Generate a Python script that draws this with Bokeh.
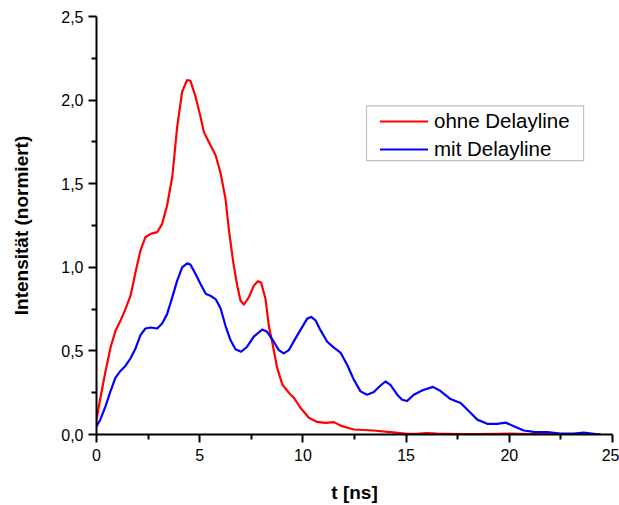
from bokeh.plotting import figure
from bokeh.models import (Range1d, FixedTicker, Legend, LegendItem, BoxAnnotation)
from bokeh.embed import file_html
from bokeh.resources import INLINE

# Intensity traces (normalised) versus time in ns
t_ohne = [0.0, 0.19, 0.44, 0.68, 0.92, 1.16, 1.40, 1.65, 1.89, 2.13, 2.37, 2.62, 2.94,
          3.18, 3.42, 3.67, 3.91, 4.15, 4.39, 4.55, 4.80, 5.04, 5.20, 5.44, 5.77, 6.01,
          6.25, 6.41, 6.57, 6.65, 6.82, 6.98, 7.14, 7.38, 7.62, 7.82, 7.98, 8.19, 8.35,
          8.51, 8.75, 9.00, 9.32, 9.56, 9.88, 10.29, 10.69, 11.10, 11.50, 11.90, 12.47,
          13.40, 14.24, 15.05, 15.50, 16.00, 16.50, 17.50, 18.50, 19.50, 20.00, 21.00,
          22.00, 23.00, 24.00, 24.40]
i_ohne = [0.09, 0.22, 0.38, 0.52, 0.62, 0.68, 0.75, 0.83, 0.97, 1.10, 1.18, 1.20, 1.21,
          1.26, 1.37, 1.54, 1.84, 2.05, 2.12, 2.115, 2.02, 1.90, 1.81, 1.75, 1.67, 1.565,
          1.41, 1.23, 1.08, 1.01, 0.89, 0.80, 0.777, 0.82, 0.89, 0.917, 0.907, 0.81, 0.65,
          0.555, 0.40, 0.30, 0.25, 0.22, 0.16, 0.10, 0.075, 0.07, 0.074, 0.05, 0.03,
          0.024, 0.014, 0.004, 0.004, 0.008, 0.005, 0.003, 0.002, 0.004, 0.005, 0.002,
          0.001, 0.002, 0.0, 0.0]

t_mit = [0.0, 0.19, 0.44, 0.68, 0.92, 1.16, 1.40, 1.65, 1.89, 2.13, 2.37, 2.62, 2.94,
         3.18, 3.42, 3.67, 3.91, 4.15, 4.39, 4.55, 4.80, 5.04, 5.30, 5.52, 5.77, 6.01,
         6.25, 6.49, 6.73, 7.01, 7.30, 7.62, 8.03, 8.27, 8.59, 8.83, 9.07, 9.32, 9.64,
         9.97, 10.21, 10.40, 10.61, 10.85, 11.18, 11.50, 11.82, 12.15, 12.47, 12.79,
         13.11, 13.44, 13.76, 14.00, 14.24, 14.57, 14.81, 15.05, 15.37, 15.80, 16.30,
         16.67, 17.15, 17.64, 17.96, 18.45, 18.93, 19.41, 19.82, 20.22, 20.70, 21.19,
         21.84, 22.48, 23.12, 23.60, 24.10, 24.40]
i_mit = [0.05, 0.09, 0.17, 0.26, 0.34, 0.38, 0.41, 0.456, 0.515, 0.594, 0.634, 0.64, 0.634,
         0.664, 0.72, 0.82, 0.92, 1.00, 1.024, 1.016, 0.96, 0.90, 0.84, 0.83, 0.81, 0.755,
         0.65, 0.565, 0.51, 0.495, 0.525, 0.585, 0.628, 0.614, 0.555, 0.505, 0.485, 0.505,
         0.575, 0.644, 0.693, 0.703, 0.683, 0.624, 0.555, 0.52, 0.49, 0.416, 0.327, 0.258,
         0.238, 0.254, 0.293, 0.317, 0.297, 0.238, 0.208, 0.20, 0.238, 0.265, 0.285,
         0.26, 0.212, 0.188, 0.149, 0.089, 0.064, 0.064, 0.071, 0.05, 0.024, 0.016,
         0.014, 0.006, 0.006, 0.012, 0.004, 0.0]

x_ticks = [0, 5, 10, 15, 20, 25]
x_minor = [2.5, 7.5, 12.5, 17.5, 22.5]
y_ticks = [0.0, 0.5, 1.0, 1.5, 2.0, 2.5]
y_minor = [0.25, 0.75, 1.25, 1.75, 2.25]
y_tick_labels = ["0,0", "0,5", "1,0", "1,5", "2,0", "2,5"]

series_names = ["ohne Delayline", "mit Delayline"]
series_colors = ["#ff0000", "#0000ff"]

FONT = "Liberation Sans"

p = figure(width=619, height=505, output_backend="svg", toolbar_location=None,
           x_range=Range1d(0, 25), y_range=Range1d(0, 2.5),
           min_border_left=96, min_border_right=7, min_border_top=16,
           min_border_bottom=68)
p.outline_line_color = None
p.xgrid.visible = False
p.ygrid.visible = False
p.background_fill_color = "white"
p.border_fill_color = "white"

r1 = p.line(t_ohne, i_ohne, line_color=series_colors[0], line_width=2.2,
            line_join="round", line_cap="round")
r2 = p.line(t_mit, i_mit, line_color=series_colors[1], line_width=2.2,
            line_join="round", line_cap="round")

for ax in (p.xaxis[0], p.yaxis[0]):
    ax.axis_line_width = 2
    ax.axis_line_color = "black"
    ax.major_tick_line_color = "black"
    ax.minor_tick_line_color = "black"
    ax.major_tick_line_width = 2
    ax.minor_tick_line_width = 2
    ax.major_tick_in = 0
    ax.minor_tick_in = 0
    ax.major_tick_out = 8
    ax.minor_tick_out = 5
    ax.major_label_text_font = FONT
    ax.major_label_text_font_size = "16px"
    ax.major_label_text_color = "black"
    ax.axis_label_text_font = FONT
    ax.axis_label_text_font_style = "bold"
    ax.axis_label_text_font_size = "19px"
    ax.axis_label_text_color = "black"

p.xaxis.ticker = FixedTicker(ticks=x_ticks, minor_ticks=x_minor)
p.yaxis.ticker = FixedTicker(ticks=y_ticks, minor_ticks=y_minor)
p.yaxis.major_label_overrides = {v: s for v, s in zip(y_ticks, y_tick_labels)}
p.xaxis.major_label_standoff = 6
p.yaxis.major_label_standoff = 5
p.xaxis.axis_label = "t [ns]"
p.yaxis.axis_label = "Intensität (normiert)"
p.xaxis.axis_label_standoff = 18
p.yaxis.axis_label_standoff = 26

# legend frame
p.add_layout(BoxAnnotation(left=13.08, right=23.6, bottom=1.638, top=1.965,
                           fill_color="white", fill_alpha=1.0,
                           line_color="#333333", line_width=1.2, level="overlay"))

legend = Legend(items=[LegendItem(label=series_names[0], renderers=[r1]),
                       LegendItem(label=series_names[1], renderers=[r2])],
                location=(284, 273), padding=0, margin=0, spacing=4,
                glyph_width=48, glyph_height=20, label_height=20,
                label_standoff=6, label_text_font=FONT,
                label_text_font_size="20.5px", label_text_color="black",
                border_line_alpha=0, background_fill_alpha=0)
p.add_layout(legend)

open("out.html", "w").write(file_html(p, INLINE))
